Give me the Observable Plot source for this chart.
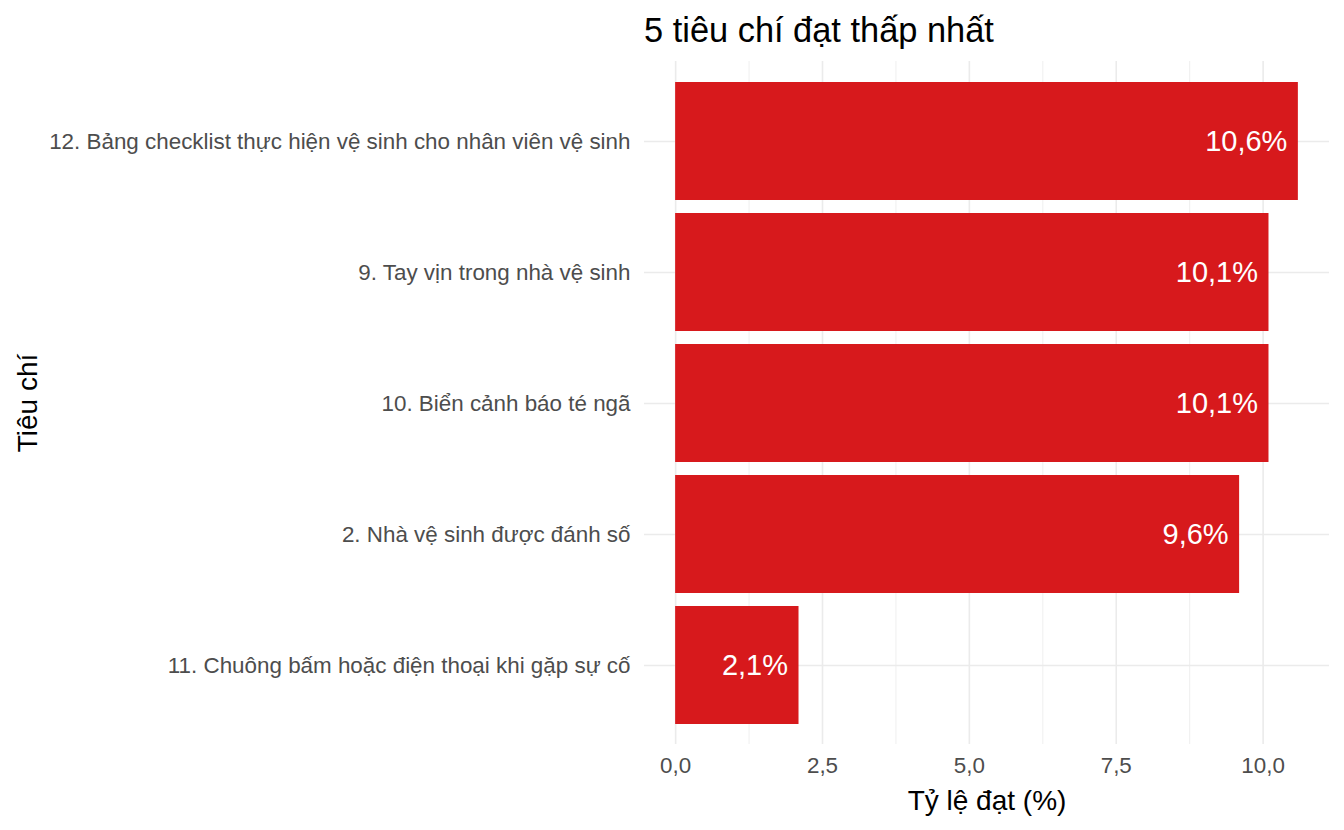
<!DOCTYPE html>
<html>
<head>
<meta charset="utf-8">
<script src="https://cdn.jsdelivr.net/npm/d3@7"></script>
<script src="https://cdn.jsdelivr.net/npm/@observablehq/plot@0.6"></script>
<style>
  html, body { margin: 0; padding: 0; background: white; }
  body { width: 1344px; height: 830px; overflow: hidden; font-family: "Liberation Sans", Arial, sans-serif; }
  #title { box-sizing: border-box; height: 58px; padding-top: 11px; padding-left: 644px; font-size: 34.4px; line-height: 38px; color: #000; white-space: nowrap; }
  #chart svg [aria-label="x-axis label"] text, #chart svg [aria-label="y-axis label"] text { font-size: 28px; fill: #000; }
</style>
</head>
<body>
<div id="title">5 tiêu chí đạt thấp nhất</div>
<div id="chart"></div>
<script>
const categories = [
  "12. Bảng checklist thực hiện vệ sinh cho nhân viên vệ sinh",
  "9. Tay vịn trong nhà vệ sinh",
  "10. Biển cảnh báo té ngã",
  "2. Nhà vệ sinh được đánh số",
  "11. Chuông bấm hoặc điện thoại khi gặp sự cố"
];
const values = [10.6, 10.1, 10.1, 9.6, 2.1];
const majorTicks = [0, 2.5, 5, 7.5, 10];
const minorTicks = [1.25, 3.75, 6.25, 8.75];
const xLabel = "Tỷ lệ đạt (%)";
const yLabel = "Tiêu chí";

const data = categories.map((c, i) => ({ cat: c, value: values[i] }));
const fmt1 = d => d.toFixed(1).replace(".", ",");

const chart = Plot.plot({
  width: 1344,
  height: 772,
  marginTop: 3,
  marginBottom: 86,
  marginLeft: 644,
  marginRight: 15,
  style: { fontFamily: "Liberation Sans, Arial, sans-serif", fontSize: "22px", background: "white", overflow: "visible" },
  x: { domain: [-0.53, 11.13], label: xLabel },
  y: { domain: categories, paddingInner: 0.1, paddingOuter: 0.15, align: 0.5, label: yLabel },
  marks: [
    Plot.gridX(minorTicks, { stroke: "#EBEBEB", strokeOpacity: 1, strokeWidth: 0.8 }),
    Plot.gridX(majorTicks, { stroke: "#EBEBEB", strokeOpacity: 1, strokeWidth: 1.6 }),
    Plot.gridY(categories, { stroke: "#EBEBEB", strokeOpacity: 1, strokeWidth: 1.6 }),
    Plot.barX(data, { x: "value", y: "cat", fill: "#D7191C" }),
    Plot.text(data, { x: "value", y: "cat", text: d => fmt1(d.value) + "%", textAnchor: "end", dx: -11, fill: "white", fontSize: 29 }),
    Plot.axisX({ ticks: majorTicks, tickFormat: fmt1, tickSize: 0, tickPadding: 13, fill: "#4D4D4D", fontSize: 22.4, label: xLabel, labelArrow: "none", labelAnchor: "center", labelOffset: 65 }),
    Plot.axisY({ tickSize: 0, tickPadding: 14, fill: "#4D4D4D", fontSize: 22.4, label: yLabel, labelArrow: "none", labelAnchor: "center", labelOffset: 627 })
  ]
});
document.getElementById("chart").appendChild(chart);
</script>
</body>
</html>
